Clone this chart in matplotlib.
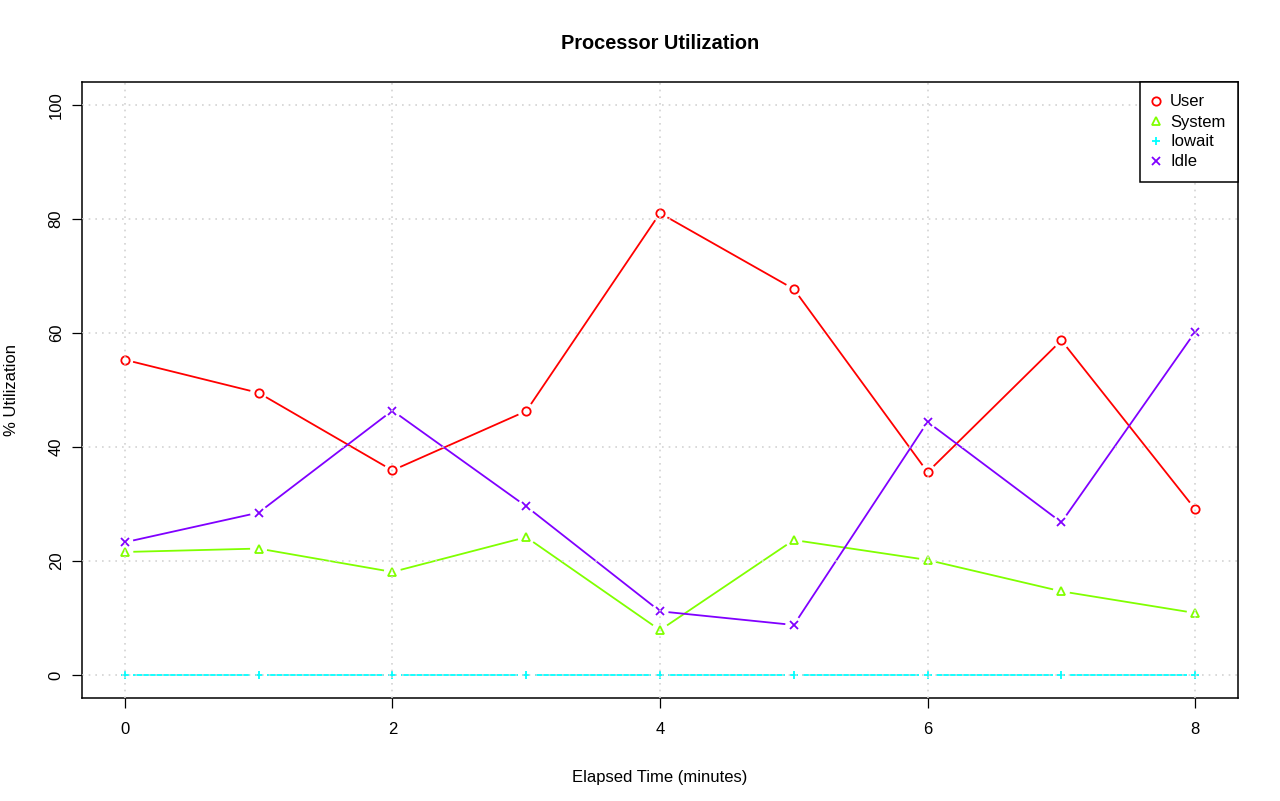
import numpy as np
import matplotlib
matplotlib.use("Agg")
import matplotlib.pyplot as plt

plt.rcParams['font.family'] = ['Liberation Sans', 'DejaVu Sans']

minutes = [0, 1, 2, 3, 4, 5, 6, 7, 8]
user = [55.3, 49.5, 35.9, 46.3, 81.0, 67.7, 35.6, 58.7, 29.1]
system = [21.6, 22.2, 18.1, 24.2, 7.9, 23.7, 20.2, 14.7, 10.9]
iowait = [0, 0, 0, 0, 0, 0, 0, 0, 0]
idle = [23.3, 28.5, 46.4, 29.6, 11.2, 8.8, 44.4, 26.8, 60.2]

names = ['User', 'System', 'Iowait', 'Idle']
colors = ['#FF0000', '#80FF00', '#00FFFF', '#8000FF']
markers = ['o', '^', '+', 'x']
series = [user, system, iowait, idle]

fig = plt.figure(figsize=(12.8, 8.01), dpi=100)
ax = fig.add_axes([82 / 1280, 1 - 698 / 801, 1156 / 1280, 616 / 801])
ax.set_xlim(-0.32, 8.32)
ax.set_ylim(-4, 104)

ax.set_xticks([0, 2, 4, 6, 8])
ax.set_yticks([0, 20, 40, 60, 80, 100])
# R grid() is drawn over the lines
ax.grid(True, color='#d3d3d3', linestyle=(0, (1, 3)), linewidth=1.2)
ax.set_axisbelow(False)
ax.tick_params(direction='out', length=7.2, width=0.9, labelsize=12)
ax.tick_params(axis='x', pad=10)
ax.tick_params(axis='y', pad=6)
for lab in ax.get_yticklabels():
    lab.set_rotation(90)
    lab.set_va('center')
for sp in ax.spines.values():
    sp.set_linewidth(1.1)


def gapped_line(x, y, color, gap=8.5):
    # R type="b": line segments stop short of each point
    pts = ax.transData.transform(np.column_stack([x, y]))
    inv = ax.transData.inverted()
    for p0, p1 in zip(pts[:-1], pts[1:]):
        d = p1 - p0
        L = np.hypot(*d)
        if L <= 2 * gap:
            continue
        u = d / L
        seg = inv.transform(np.array([p0 + u * gap, p1 - u * gap]))
        ax.plot(seg[:, 0], seg[:, 1], color=color, linewidth=1.3,
                solid_capstyle='butt')


for vals, col, mk, nm in zip(series, colors, markers, names):
    gapped_line(minutes, vals, col)
    ax.plot(minutes, vals, linestyle='none', marker=mk, markersize=6,
            markerfacecolor='none', markeredgecolor=col,
            markeredgewidth=1.3, label=nm)

leg = ax.legend(loc='upper right', borderaxespad=0, fancybox=False,
                framealpha=1, edgecolor='black', fontsize=12,
                handlelength=0.4, handletextpad=0.65, borderpad=0.75,
                labelspacing=0.3)
leg.get_frame().set_linewidth(1.1)
leg.set_zorder(5)

ax.text(0.5, 1.062, 'Processor Utilization', transform=ax.transAxes,
        ha='center', va='center', fontsize=14.4, fontweight='bold')
ax.set_xlabel('Elapsed Time (minutes)', fontsize=12)
ax.set_ylabel('% Utilization', fontsize=12, va='center')
ax.xaxis.set_label_coords(0.5, (698 - 770) / 616)
ax.yaxis.set_label_coords((12 - 82) / 1156, 0.5)

fig.savefig('out.png', dpi=100)
